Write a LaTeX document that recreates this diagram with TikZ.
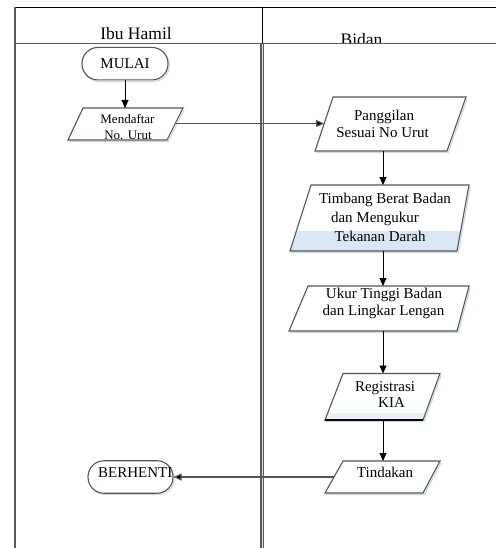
\documentclass[tikz,border=0pt]{standalone}
\usepackage{fontspec}
\setmainfont{Liberation Serif}
\usetikzlibrary{arrows.meta}
\definecolor{edgecol}{RGB}{85,85,85}
\definecolor{bandcol}{RGB}{217,231,245}
\definecolor{shadcol}{RGB}{200,218,238}
\definecolor{lanecol}{RGB}{90,90,90}
\begin{document}
\begin{tikzpicture}[x=1pt,y=-1pt,
  txt/.style={inner sep=0pt, anchor=base, font=\fontsize{15}{18}\selectfont},
  smalltxt/.style={inner sep=0pt, anchor=base, font=\fontsize{13}{16}\selectfont},
  headtxt/.style={inner sep=0pt, anchor=base, font=\fontsize{17.5}{20}\selectfont},
  term/.style={draw=edgecol, line width=1.1pt, rounded corners=16pt, minimum width=86pt, minimum height=32.5pt, inner sep=0pt, fill=white},
  shapeline/.style={draw=edgecol, line width=1.1pt, line join=miter},
  shad/.style={draw=shadcol, line width=1.2pt, shift={(1.2pt,-1.5pt)}},
  flow/.style={black, line width=0.9pt, -{Triangle[length=8pt,width=7pt]}},
  hflow/.style={edgecol, line width=1.1pt, -{Triangle[length=8pt,width=7pt,fill=black]}},
]
\useasboundingbox (0,0) rectangle (496,548);
\fill[white] (0,0) rectangle (496,548);

% ---- swimlane frame ----
\node[headtxt] (hibu) at (136,39.3) {Ibu Hamil};
\node[headtxt] (hbidan) at (361.5,45.5) {Bidan};
\fill[white] (264.5,44) rectangle (496,52);
\draw[black, line width=1.5pt] (14,7.3) -- (496,7.3);
\draw[lanecol, line width=1.4pt] (14,43.3) -- (496,43.3);
\draw[lanecol, line width=1.4pt] (14.8,6.6) -- (14.8,548);
\draw[black, line width=1.6pt] (262.5,6.6) -- (262.5,43.3);
\draw[lanecol, line width=4.2pt] (262.3,43.3) -- (262.3,548);
\draw[gray!25, line width=1.4pt] (262.3,44) -- (262.3,548);

% ---- soft shadows ----
\draw[shad, rounded corners=16pt] (82,47.5) rectangle (168,80);
\draw[shad, rounded corners=16pt] (88,461) rectangle (173,493);
\draw[shad] (183,108) -- (167,140) -- (68,140);
\draw[shad] (466,97) -- (447,151) -- (315,151);
\draw[shad] (469,185) -- (457,251) -- (290,251);
\draw[shad] (469,286) -- (457,331) -- (289,331);
\draw[shad] (440,373.5) -- (423,420) -- (325,420);
\draw[shad] (440,461) -- (423,493) -- (325,493);

% ---- terminals ----
\node[term] (mulai) at (125,63.7) {};
\node[txt] (tmulai) at (125,68.8) {MULAI};
\node[term, minimum width=85pt] (stop) at (130.5,477) {};

% ---- parallelograms (fills) ----
\fill[white] (83,108) -- (183,108) -- (167,140) -- (68,140) -- cycle;
\fill[white] (333,97) -- (466,97) -- (447,151) -- (315,151) -- cycle;
\fill[white] (311,185) -- (469,185) -- (457,251) -- (290,251) -- cycle;
\begin{scope}
  \clip (311,185) -- (469,185) -- (457,251) -- (290,251) -- cycle;
  \fill[bandcol] (280,231) rectangle (480,252);
\end{scope}
\fill[white] (308,286) -- (469,286) -- (457,331) -- (289,331) -- cycle;
\fill[white] (343,373.5) -- (440,373.5) -- (423,420) -- (325,420) -- cycle;
\begin{scope}
  \clip (343,373.5) -- (440,373.5) -- (423,420) -- (325,420) -- cycle;
  \fill[bandcol!60] (300,413) rectangle (450,421);
\end{scope}
\fill[white] (343,461) -- (440,461) -- (423,493) -- (325,493) -- cycle;

% ---- texts ----
\node[smalltxt] (tmend1) at (127.5,123.3) {Mendaftar};
\node[smalltxt] (tmend2) at (128,140) {No. Urut};
\node[txt] (tpang1) at (384,120.5) {Panggilan};
\node[txt] (tpang2) at (382.5,137.5) {Sesuai No Urut};
\node[txt] (ttimb1) at (385,203) {Timbang Berat Badan};
\node[txt] (ttimb2) at (375,222.5) {dan Mengukur};
\node[txt] (ttimb3) at (380,241) {Tekanan Darah};
\node[txt] (tukur1) at (384,298.5) {Ukur Tinggi Badan};
\node[txt] (tukur2) at (383.5,315.5) {dan Lingkar Lengan};
\node[txt] (treg1) at (385,391.5) {Registrasi};
\node[txt] (treg2) at (391.5,407) {KIA};
\node[txt] (ttind) at (385,477.3) {Tindakan};
\node[txt, anchor=base west] (tstop) at (98,477.5) {BERHENTI};

% ---- parallelogram outlines ----
\draw[shapeline] (83,108) -- (183,108) -- (167,140) -- (68,140) -- cycle;
\draw[shapeline] (333,97) -- (466,97) -- (447,151) -- (315,151) -- cycle;
\draw[shapeline] (311,185) -- (469,185) -- (457,251) -- (290,251) -- cycle;
\draw[shapeline] (308,286) -- (469,286) -- (457,331) -- (289,331) -- cycle;
\draw[shapeline] (343,373.5) -- (440,373.5) -- (423,420) -- (325,420) -- cycle;
\draw[black, line width=1.8pt] (325,420) -- (423,420);
\draw[shapeline] (343,461) -- (440,461) -- (423,493) -- (325,493) -- cycle;

% ---- connector anchors ----
\coordinate (mend-n) at (125,108);
\coordinate (mend-e) at (175.3,123.5);
\coordinate (pang-w) at (324.2,123.5);
\coordinate (pang-s) at (383,151);
\coordinate (timb-n) at (383,185);
\coordinate (timb-s) at (383,251);
\coordinate (ukur-n) at (383,286);
\coordinate (ukur-s) at (383,331);
\coordinate (reg-n) at (383,373.5);
\coordinate (reg-s) at (383,420);
\coordinate (tind-n) at (383,461);
\coordinate (tind-w) at (334,477);

% ---- connectors ----
\draw[flow] (mulai.south) -- (mend-n);
\draw[hflow] (mend-e) -- (pang-w);
\draw[flow] (pang-s) -- (timb-n);
\draw[flow] (timb-s) -- (ukur-n);
\draw[flow] (ukur-s) -- (reg-n);
\draw[flow] (reg-s) -- (tind-n);
\draw[hflow] (tind-w) -- (stop.east);
\end{tikzpicture}
\end{document}
